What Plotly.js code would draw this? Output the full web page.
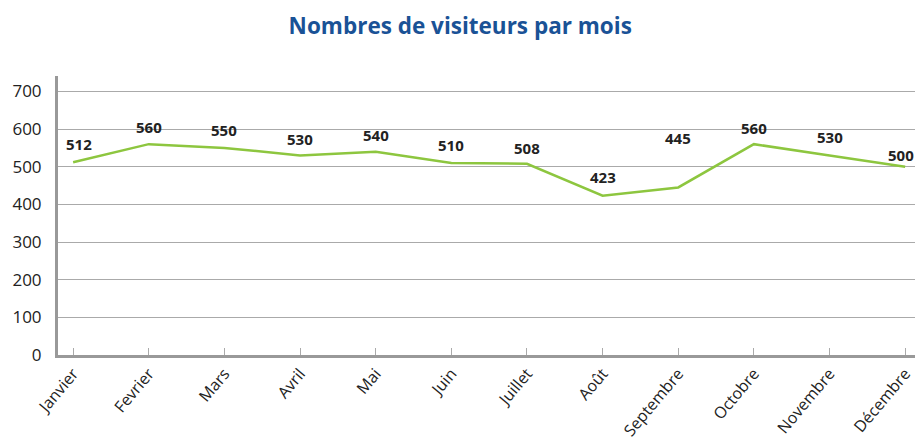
<!DOCTYPE html>
<html>
<head>
<meta charset="utf-8">
<script src="https://cdn.plot.ly/plotly-3.0.1.min.js"></script>
<style>html,body{margin:0;padding:0;background:#fff;}#chart{width:915px;height:437px;}</style>
</head>
<body>
<div id="chart"></div>
<script>
const months = ["Janvier","Fevrier","Mars","Avril","Mai","Juin","Juillet","Août","Septembre","Octobre","Novembre","Décembre"];
const visitors = [512, 560, 550, 530, 540, 510, 508, 423, 445, 560, 530, 500];
const yTicks = [0, 100, 200, 300, 400, 500, 600, 700];

// label placement (styling only, not data)
const labelYShift = [18, 17, 18, 16, 17, 18, 16, 19, 49, 16, 18, 12];
const labelXShift = [6, 0, 0, 0, 0, 0, 0, 0, 0, 0, 0, -4];

const trace = {
  x: months.map((m, i) => i),
  y: visitors,
  type: 'scatter',
  mode: 'lines',
  line: {color: '#8dc63f', width: 2.5},
  hoverinfo: 'none'
};

const annotations = visitors.map((v, i) => ({
  x: i, y: v, xref: 'x', yref: 'y',
  text: '<b>' + v + '</b>',
  showarrow: false,
  xanchor: 'center', yanchor: 'middle',
  yshift: labelYShift[i], xshift: labelXShift[i],
  font: {family: 'Open Sans', size: 15, color: '#222'}
}));

const layout = {
  width: 915, height: 437,
  margin: {l: 58, r: 0, t: 76, b: 82},
  paper_bgcolor: '#fff', plot_bgcolor: '#fff',
  showlegend: false,
  annotations: annotations,
  title: {
    text: '<b>Nombres de visiteurs par mois</b>',
    font: {family: 'Open Sans', size: 22.5, color: '#1a5296'},
    x: 0.503, xanchor: 'center', y: 0.94, yanchor: 'middle'
  },
  xaxis: {
    range: [-0.2, 11.13],
    tickmode: 'array',
    tickvals: months.map((m, i) => i),
    ticktext: months,
    tickangle: -50,
    ticklabeloverflow: 'allow',
    ticks: 'inside', ticklen: 7, tickcolor: '#aaa', tickwidth: 1,
    showline: true, linecolor: '#999', linewidth: 3,
    showgrid: false, zeroline: false,
    tickfont: {family: 'Open Sans', size: 16, color: '#222'}
  },
  yaxis: {
    range: [0, 741],
    tickmode: 'array',
    tickvals: yTicks,
    ticktext: yTicks.map(String),
    showline: true, linecolor: '#999', linewidth: 3,
    showgrid: true, gridcolor: '#aaa', gridwidth: 1,
    zeroline: false,
    ticks: '', ticklabelstandoff: 10,
    tickfont: {family: 'Open Sans', size: 17, color: '#222'}
  }
};

Plotly.newPlot('chart', [trace], layout, {displayModeBar: false, staticPlot: true});
</script>
</body>
</html>
